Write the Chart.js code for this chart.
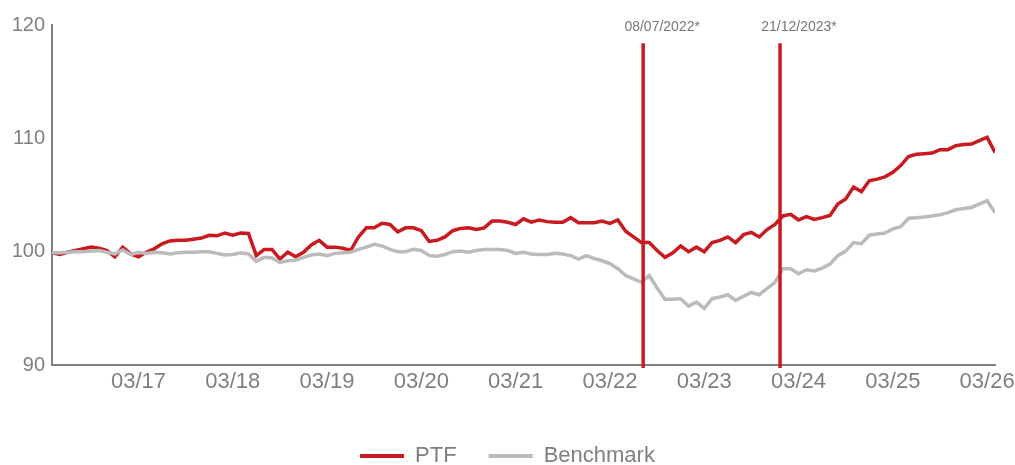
<!DOCTYPE html>
<html>
<head>
<meta charset="utf-8">
<script src="https://cdn.jsdelivr.net/npm/chart.js@4.4.1/dist/chart.umd.min.js"></script>
<style>
  html, body { margin: 0; padding: 0; background: #ffffff; }
  #wrap { width: 1015px; height: 465px; position: relative; }
</style>
</head>
<body>
<div id="wrap"><canvas id="c" width="1015" height="465"></canvas></div>
<script>
// Monthly categories (first day of each month)
const months = [
  '04/16','05/16','06/16','07/16','08/16','09/16','10/16','11/16','12/16',
  '01/17','02/17','03/17','04/17','05/17','06/17','07/17','08/17','09/17','10/17','11/17','12/17',
  '01/18','02/18','03/18','04/18','05/18','06/18','07/18','08/18','09/18','10/18','11/18','12/18',
  '01/19','02/19','03/19','04/19','05/19','06/19','07/19','08/19','09/19','10/19','11/19','12/19',
  '01/20','02/20','03/20','04/20','05/20','06/20','07/20','08/20','09/20','10/20','11/20','12/20',
  '01/21','02/21','03/21','04/21','05/21','06/21','07/21','08/21','09/21','10/21','11/21','12/21',
  '01/22','02/22','03/22','04/22','05/22','06/22','07/22','08/22','09/22','10/22','11/22','12/22',
  '01/23','02/23','03/23','04/23','05/23','06/23','07/23','08/23','09/23','10/23','11/23','12/23',
  '01/24','02/24','03/24','04/24','05/24','06/24','07/24','08/24','09/24','10/24','11/24','12/24',
  '01/25','02/25','03/25','04/25','05/25','06/25','07/25','08/25','09/25','10/25','11/25','12/25',
  '01/26','02/26','03/26','04/26'
];

const ptf = [
  99.9, 99.75, 99.95, 100.1, 100.25, 100.4, 100.3, 100.1, 99.55, 100.4,
  99.8, 99.55, 99.95, 100.25, 100.7, 100.95, 101.0, 101.0, 101.1, 101.2,
  101.45, 101.4, 101.65, 101.45, 101.65, 101.6, 99.65, 100.2, 100.2, 99.35,
  99.95, 99.55, 99.95, 100.6, 101.0, 100.4, 100.4, 100.3, 100.1, 101.3,
  102.1, 102.1, 102.5, 102.4, 101.75, 102.1, 102.1, 101.85, 100.9, 101.0,
  101.3, 101.85, 102.05, 102.1, 101.95, 102.1, 102.7, 102.7, 102.6, 102.4,
  102.9, 102.6, 102.8, 102.65, 102.6, 102.6, 103.0, 102.55, 102.55, 102.55,
  102.7, 102.5, 102.8, 101.8, 101.3, 100.8, 100.8, 100.1, 99.5, 99.9,
  100.5, 100.0, 100.4, 100.0, 100.8, 101.0, 101.3, 100.8, 101.5, 101.7,
  101.3, 101.95, 102.4, 103.15, 103.3, 102.8, 103.1, 102.85, 103.0, 103.2,
  104.2, 104.65, 105.7, 105.3, 106.25, 106.4, 106.6, 107.0, 107.6, 108.4,
  108.6, 108.65, 108.7, 109.0, 109.0, 109.35, 109.45, 109.5, 109.8, 110.1,
  108.75
];

const benchmark = [
  99.9, 99.9, 99.95, 100.0, 100.0, 100.05, 100.1, 99.95, 99.8, 100.15,
  99.75, 99.95, 99.85, 99.95, 99.9, 99.8, 99.9, 99.95, 99.95, 100.0,
  100.0, 99.85, 99.7, 99.75, 99.9, 99.8, 99.15, 99.5, 99.45, 99.05,
  99.2, 99.25, 99.5, 99.7, 99.8, 99.65, 99.85, 99.9, 99.95, 100.2,
  100.4, 100.65, 100.5, 100.2, 100.0, 100.0, 100.2, 100.1, 99.65, 99.6,
  99.75, 100.0, 100.05, 99.95, 100.1, 100.2, 100.2, 100.2, 100.1, 99.85,
  99.95, 99.8, 99.75, 99.75, 99.85, 99.8, 99.65, 99.35, 99.65, 99.4,
  99.2, 98.95, 98.5, 97.9, 97.6, 97.3, 97.9, 96.8, 95.8, 95.8,
  95.85, 95.2, 95.55, 95.0, 95.85, 96.0, 96.2, 95.7, 96.05, 96.4,
  96.2, 96.75, 97.3, 98.5, 98.5, 98.05, 98.4, 98.3, 98.55, 98.9,
  99.65, 100.05, 100.8, 100.7, 101.45, 101.55, 101.65, 102.0, 102.2, 102.95,
  103.0, 103.05, 103.15, 103.25, 103.45, 103.7, 103.8, 103.9, 104.2, 104.5,
  103.45
];

const xTickLabels = ['03/17','03/18','03/19','03/20','03/21','03/22','03/23','03/24','03/25','03/26'];
const yTicks = [90, 100, 110, 120];

const eventDates = ['08/07/2022', '21/12/2023'];
const eventLabels = ['08/07/2022*', '21/12/2023*'];
const eventTop = 118.4;

const RED = '#C81A20';
const GREY = '#BBBBBB';
const TEXT = '#7F7F7F';
const FONT = "'Liberation Sans', Arial, sans-serif";

// convert dd/mm/yyyy to fractional month index on the axis
function dateToIndex(s) {
  const [d, m, y] = s.split('/').map(Number);
  const key = String(m).padStart(2, '0') + '/' + String(y % 100).padStart(2, '0');
  const base = months.indexOf(key);
  const dim = new Date(y, m, 0).getDate();
  return base + (d - 1) / dim;
}

const eventPlugin = {
  id: 'eventLines',
  afterDatasetsDraw(chart) {
    const { ctx, scales: { x, y }, chartArea } = chart;
    ctx.save();
    eventDates.forEach((dt, k) => {
      const px = x.getPixelForValue(dateToIndex(dt));
      const top = y.getPixelForValue(eventTop);
      ctx.strokeStyle = RED;
      ctx.lineWidth = 3.5;
      ctx.beginPath();
      ctx.moveTo(px, top);
      ctx.lineTo(px, chartArea.bottom + 3);
      ctx.stroke();
      ctx.fillStyle = '#767676';
      ctx.font = "14px " + FONT;
      ctx.textAlign = 'center';
      ctx.textBaseline = 'middle';
      ctx.fillText(eventLabels[k], px + 19, top - 16);
    });
    ctx.restore();
  }
};

new Chart(document.getElementById('c'), {
  type: 'line',
  data: {
    datasets: [
      {
        label: 'PTF',
        data: ptf.map((v, i) => ({ x: i, y: v })),
        borderColor: RED,
        backgroundColor: RED,
        borderWidth: 3.5,
        pointRadius: 0,
        tension: 0,
        order: 1
      },
      {
        label: 'Benchmark',
        data: benchmark.map((v, i) => ({ x: i, y: v })),
        borderColor: GREY,
        backgroundColor: GREY,
        borderWidth: 3.5,
        pointRadius: 0,
        tension: 0,
        order: 0
      }
    ]
  },
  options: {
    responsive: false,
    animation: false,
    devicePixelRatio: 1,
    layout: { padding: { top: 25, right: 0, left: 0, bottom: 0 } },
    plugins: {
      tooltip: { enabled: false },
      legend: {
        position: 'bottom',
        maxHeight: 52,
        labels: {
          color: TEXT,
          font: { family: FONT, size: 22 },
          boxWidth: 44,
          boxHeight: 4,
          padding: 32,
          generateLabels(chart) {
            return chart.data.datasets.map((ds, i) => ({
              text: ds.label,
              fillStyle: ds.borderColor,
              strokeStyle: ds.borderColor,
              lineWidth: 0,
              fontColor: TEXT,
              hidden: false,
              datasetIndex: i
            }));
          }
        }
      }
    },
    scales: {
      x: {
        type: 'linear',
        min: 0,
        max: months.length - 1,
        grid: { display: false, drawTicks: false },
        border: { display: true, color: '#808080', width: 2 },
        afterBuildTicks(scale) {
          scale.ticks = xTickLabels.map(l => ({ value: months.indexOf(l) }));
        },
        afterFit(scale) {
          scale.height = 48;
          scale.paddingLeft = 0;
          scale.paddingRight = 20;
        },
        ticks: {
          color: TEXT,
          font: { family: FONT, size: 22 },
          padding: 4,
          autoSkip: false,
          maxRotation: 0,
          callback: (v) => months[v]
        }
      },
      y: {
        min: 90,
        max: 120,
        grid: { display: false, drawTicks: false },
        border: { display: true, color: '#808080', width: 2 },
        afterBuildTicks(scale) {
          scale.ticks = yTicks.map(v => ({ value: v }));
        },
        afterFit(scale) { scale.width = 52; },
        ticks: {
          color: TEXT,
          font: { family: FONT, size: 20 },
          padding: 7
        }
      }
    }
  },
  plugins: [eventPlugin]
});
</script>
</body>
</html>
